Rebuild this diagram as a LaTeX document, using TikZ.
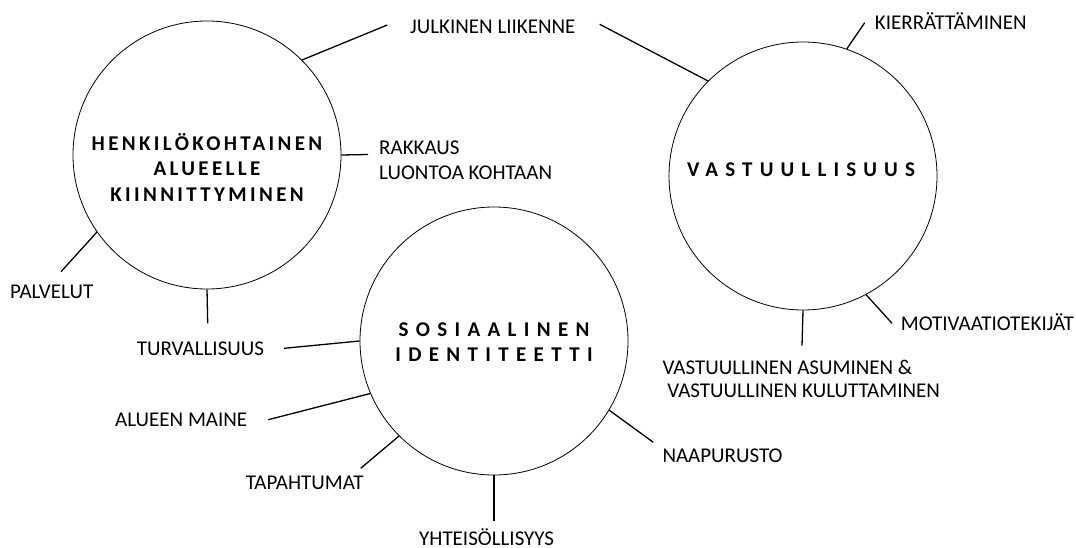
\documentclass[tikz,border=0pt]{standalone}
\usepackage{fontspec}
\setmainfont{Carlito}
\usetikzlibrary{positioning}

\begin{document}
\begin{tikzpicture}[
    x=1pt, y=-1pt,
    ring/.style={draw, circle, minimum size=268pt, inner sep=0pt, line width=0.8pt},
    ttl/.style={font=\fontsize{21}{25.5}\selectfont\bfseries\addfontfeature{LetterSpace=#1}, align=center, inner sep=0pt},
    lbl/.style={font=\fontsize{21}{25}\selectfont, anchor=west, inner sep=0pt, text height=13.5pt, text depth=0pt},
    lbltwo/.style={font=\fontsize{21}{25}\selectfont, anchor=west, inner sep=0pt, align=left},
    ln/.style={line width=1.3pt},
  ]
  \useasboundingbox (0,0) rectangle (1076,548);

  % circles
  \node[ring] (hk) at (207,155) {};
  \node[ring] (va) at (803,176) {};
  \node[ring] (si) at (494,341) {};

  % titles
  \node[ttl=16] (hk-t) at (207,167.3) {HENKILÖKOHTAINEN\\ALUEELLE\\KIINNITTYMINEN};
  \node[ttl=34] (va-t) at (801,170) {VASTUULLISUUS};
  \node[ttl=35] (si-t) at (494,342.3) {SOSIAALINEN\\IDENTITEETTI};

  % labels
  \node[lbl] (julk) at (410,27) {JULKINEN LIIKENNE};
  \node[lbltwo] (rakk) at (379,160.2) {RAKKAUS\\LUONTOA KOHTAAN};
  \node[lbl] (kier) at (874.7,23) {KIERRÄTTÄMINEN};
  \node[lbl] (palv) at (10,291.3) {PALVELUT};
  \node[lbl] (turv) at (136.7,349) {TURVALLISUUS};
  \node[lbl] (alue) at (115,420) {ALUEEN MAINE};
  \node[lbl] (tapa) at (245.7,482.3) {TAPAHTUMAT};
  \node[lbl] (yhte) at (419,538.5) {YHTEISÖLLISYYS};
  \node[lbl] (naap) at (662.3,455.7) {NAAPURUSTO};
  \node[lbltwo, font=\fontsize{21}{23.3}\selectfont] (vast) at (662.3,378.7)
    {VASTUULLINEN ASUMINEN \&\\\hspace*{0.23em}VASTUULLINEN KULUTTAMINEN};
  \node[lbl] (moti) at (900.7,324) {MOTIVAATIOTEKIJÄT};

  % free ends of the connectors
  \coordinate (julk-l) at (387.3,25);
  \coordinate (julk-r) at (599.7,24.3);
  \coordinate (rakk-e) at (368,154.5);
  \coordinate (kier-e) at (864.7,22.7);
  \coordinate (palv-e) at (61,271.7);
  \coordinate (turv-u) at (207.7,323.3);
  \coordinate (turv-r) at (284,348.3);
  \coordinate (alue-e) at (268.3,419.7);
  \coordinate (tapa-e) at (360.7,468.3);
  \coordinate (yhte-e) at (494,520.7);
  \coordinate (naap-e) at (653.3,442.3);
  \coordinate (vast-e) at (802,345.7);
  \coordinate (moti-e) at (892,323.3);

  % connectors
  \draw[ln] (hk.45) -- (julk-l);
  \draw[ln] (va.135) -- (julk-r);
  \draw[ln] (hk.0) -- (rakk-e);
  \draw[ln] (va.71) -- (kier-e);
  \draw[ln] (hk.215) -- (palv-e);
  \draw[ln] (hk.270) -- (turv-u);
  \draw[ln] (si.180) -- (turv-r);
  \draw[ln] (si.203) -- (alue-e);
  \draw[ln] (si.225) -- (tapa-e);
  \draw[ln] (si.270) -- (yhte-e);
  \draw[ln] (si.329) -- (naap-e);
  \draw[ln] (va.270) -- (vast-e);
  \draw[ln] (va.298) -- (moti-e);
\end{tikzpicture}
\end{document}
